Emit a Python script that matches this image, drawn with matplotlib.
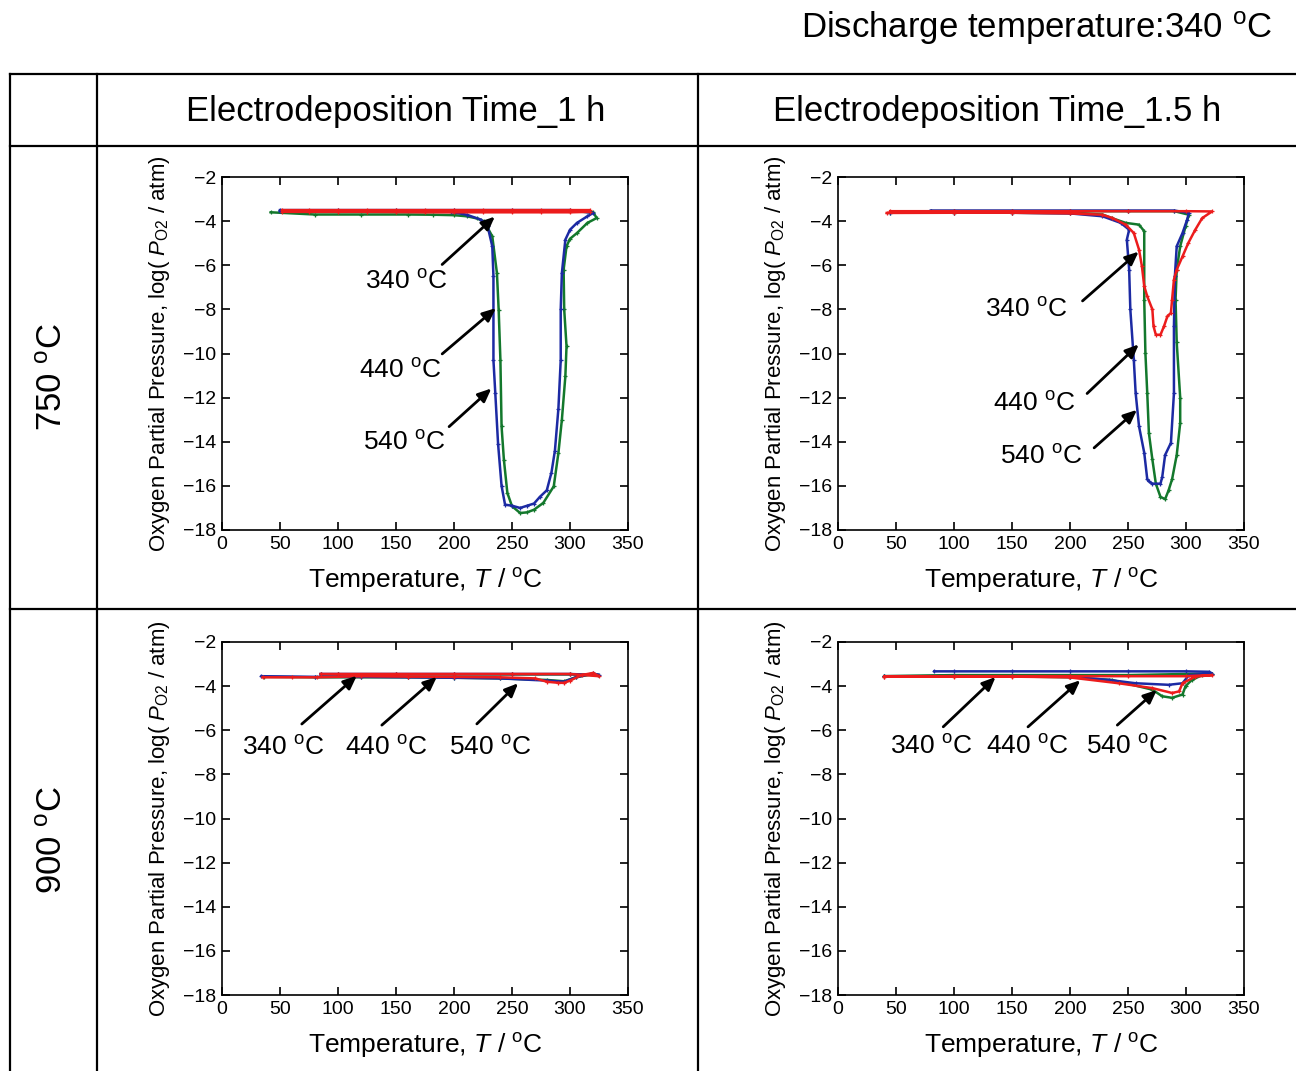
import matplotlib
matplotlib.use("Agg")
import matplotlib.pyplot as plt

plt.rcParams['font.family'] = ['Liberation Sans', 'DejaVu Sans']
plt.rcParams['mathtext.fontset'] = 'custom'
plt.rcParams['mathtext.rm'] = 'Liberation Sans'
plt.rcParams['mathtext.it'] = 'Liberation Sans:italic'

# ---- data (temperature in degC, log(PO2/atm)) ----
# 750 degC, 1 h
t_750_1h_green = [42, 80, 120, 160, 182, 200, 211, 220, 226, 233, 237, 238.5, 240, 241, 243, 246, 250, 257,
                  263, 269, 277, 286, 290, 293, 296, 297, 295, 294.5, 297, 300, 306, 315, 323, 320, 300, 250,
                  200, 150, 100, 60]
p_750_1h_green = [-3.60, -3.70, -3.70, -3.70, -3.71, -3.73, -3.78, -3.88, -4.01, -4.69, -6.35, -8.01, -10.28,
                  -13.3, -14.81, -16.32, -16.92, -17.23, -17.2, -17.08, -16.77, -16.02, -14.51, -13.0, -11.03,
                  -9.67, -8.0, -6.2, -5.14, -4.8, -4.54, -4.08, -3.86, -3.60, -3.55, -3.55, -3.55, -3.55,
                  -3.55, -3.55]
t_750_1h_blue = [50, 100, 150, 197, 211, 223, 229, 233, 234, 234, 235.6, 238, 241, 244, 250, 257, 263, 269,
                 274, 280, 284, 287, 290, 292, 292, 293, 296, 300, 306, 315, 320, 300, 250, 200, 150, 100, 50]
p_750_1h_blue = [-3.55, -3.55, -3.56, -3.58, -3.71, -3.93, -4.24, -5.14, -6.5, -10.3, -11.8, -14.1, -16.0,
                 -16.85, -16.9, -17.0, -16.9, -16.8, -16.5, -16.2, -15.4, -14.4, -12.5, -10.3, -8.0, -6.35,
                 -4.84, -4.39, -4.08, -3.78, -3.63, -3.50, -3.50, -3.50, -3.50, -3.50, -3.50]
t_750_1h_red = [52, 75, 100, 125, 150, 175, 200, 225, 250, 275, 300, 317, 317, 300, 275, 250, 225, 200, 175,
                150, 125, 100, 75, 52]
p_750_1h_red = [-3.58, -3.58, -3.58, -3.58, -3.59, -3.6, -3.6, -3.6, -3.6, -3.6, -3.6, -3.58, -3.5, -3.5,
                -3.5, -3.5, -3.5, -3.5, -3.5, -3.5, -3.5, -3.5, -3.5, -3.5]

# 750 degC, 1.5 h
t_750_15h_green = [45, 100, 150, 200, 228, 236, 248, 259.5, 264, 264, 265, 266.6, 268, 271, 274, 278, 282,
                   285, 288, 292, 295, 295, 292, 291, 292, 295, 299.6, 302.5, 290, 250, 200, 150, 100, 80]
p_750_15h_green = [-3.62, -3.62, -3.62, -3.64, -3.7, -3.86, -4.08, -4.16, -4.46, -7.56, -9.98, -11.8, -13.6,
                   -14.8, -15.9, -16.5, -16.6, -16.2, -15.7, -14.6, -13.15, -12.0, -9.5, -7.56, -6.2, -5.14,
                   -4.24, -3.71, -3.55, -3.55, -3.55, -3.55, -3.55, -3.55]
t_750_15h_blue = [45, 100, 150, 200, 228, 243.7, 251, 249, 251, 252, 255, 256.6, 259.5, 264, 266.6, 268, 271,
                  278, 279.5, 282, 287, 289.6, 289.6, 290.4, 292, 297, 301, 302.5, 290, 250, 200, 150, 100, 80]
p_750_15h_blue = [-3.62, -3.62, -3.62, -3.65, -3.78, -4.08, -4.39, -4.84, -6.2, -8.0, -10.28, -11.8, -13.3,
                  -14.5, -15.7, -15.8, -15.9, -15.9, -15.6, -14.6, -14.05, -11.8, -8.77, -6.5, -5.14, -4.54,
                  -3.93, -3.63, -3.52, -3.52, -3.52, -3.52, -3.52, -3.52]
t_750_15h_red = [42, 100, 150, 200, 228, 236.5, 248, 255, 259.5, 262, 264, 266.6, 271, 272, 274, 278, 281,
                 284, 287, 288, 289.6, 292, 297, 302, 308, 314, 322.5, 300, 250, 200, 150, 100, 45]
p_750_15h_red = [-3.63, -3.62, -3.62, -3.65, -3.71, -3.86, -4.16, -4.54, -5.29, -6.05, -6.95, -7.41, -8.0,
                 -8.77, -9.15, -9.15, -8.77, -8.31, -8.16, -7.56, -6.65, -6.2, -5.6, -4.99, -4.39, -3.86,
                 -3.56, -3.55, -3.55, -3.55, -3.55, -3.55, -3.55]

# 900 degC, 1 h
t_900_1h_green = [36, 80, 120, 160, 200, 240, 280, 295, 305, 320, 324, 300, 250, 200, 150, 100, 85]
p_900_1h_green = [-3.58, -3.6, -3.6, -3.6, -3.62, -3.65, -3.72, -3.78, -3.6, -3.45, -3.5, -3.47, -3.47,
                  -3.47, -3.47, -3.47, -3.47]
t_900_1h_blue = [34, 80, 120, 160, 200, 240, 280, 295, 305, 320, 325, 300, 250, 200, 150, 100, 85]
p_900_1h_blue = [-3.55, -3.58, -3.58, -3.6, -3.62, -3.65, -3.75, -3.8, -3.6, -3.42, -3.5, -3.45, -3.45,
                 -3.45, -3.45, -3.45, -3.45]
t_900_1h_red = [35, 60, 82, 120, 160, 200, 240, 270, 280, 290, 295, 300, 310, 320, 325, 300, 250, 200, 150,
                100, 85]
p_900_1h_red = [-3.6, -3.6, -3.6, -3.55, -3.57, -3.58, -3.6, -3.65, -3.8, -3.85, -3.85, -3.75, -3.5, -3.4,
                -3.55, -3.45, -3.45, -3.45, -3.45, -3.45, -3.45]

# 900 degC, 1.5 h
t_900_15h_green = [40, 100, 150, 200, 236, 271, 279.5, 288, 297, 299.6, 305, 314, 322.5, 300, 250, 200, 150,
                   100, 40]
p_900_15h_green = [-3.55, -3.55, -3.56, -3.6, -3.72, -4.16, -4.46, -4.53, -4.38, -4.0, -3.72, -3.5, -3.43,
                   -3.45, -3.5, -3.5, -3.5, -3.5, -3.55]
t_900_15h_blue = [40, 100, 150, 200, 233.7, 256.6, 285, 297, 302.5, 322.5, 320, 300, 250, 200, 150, 100, 83]
p_900_15h_blue = [-3.55, -3.55, -3.56, -3.58, -3.72, -3.87, -3.94, -3.87, -3.5, -3.43, -3.35, -3.33, -3.33,
                  -3.33, -3.33, -3.33, -3.33]
t_900_15h_red = [40, 100, 150, 199, 242, 271, 288, 294, 297, 308, 322.5, 300, 250, 200, 150, 100, 40]
p_900_15h_red = [-3.57, -3.57, -3.57, -3.6, -3.87, -4.09, -4.31, -4.24, -3.87, -3.57, -3.5, -3.55, -3.55,
                 -3.55, -3.55, -3.55, -3.57]

col_titles = ["Electrodeposition Time_1 h", "Electrodeposition Time_1.5 h"]
row_titles = [r"750 $^{\rm o}$C", r"900 $^{\rm o}$C"]
hold_labels = [r"340 $^{\rm o}$C", r"440 $^{\rm o}$C", r"540 $^{\rm o}$C"]
x_ticks = [0, 50, 100, 150, 200, 250, 300, 350]
y_ticks = [-2, -4, -6, -8, -10, -12, -14, -16, -18]

GREEN = '#13782c'
BLUE = '#1c2aa3'
RED = '#ec1c1c'

panels = [
    [(t_750_1h_green, p_750_1h_green), (t_750_1h_blue, p_750_1h_blue), (t_750_1h_red, p_750_1h_red)],
    [(t_750_15h_green, p_750_15h_green), (t_750_15h_blue, p_750_15h_blue), (t_750_15h_red, p_750_15h_red)],
    [(t_900_1h_green, p_900_1h_green), (t_900_1h_blue, p_900_1h_blue), (t_900_1h_red, p_900_1h_red)],
    [(t_900_15h_green, p_900_15h_green), (t_900_15h_blue, p_900_15h_blue), (t_900_15h_red, p_900_15h_red)],
]

# annotation layout per panel: (text xy, arrow tail, arrow head) in data coords
arrows = [
    [((159, -6.75), (188, -6.05), (237, -3.71)),
     ((154, -10.8), (188, -10.1), (238, -7.86)),
     ((157, -14.05), (194, -13.4), (234, -11.5))],
    [((162, -8.0), (209, -7.7), (261, -5.3)),
     ((169, -12.3), (213, -11.9), (261, -9.5)),
     ((175, -14.66), (219, -14.36), (259.5, -12.47))],
    [((53, -6.8), (67, -5.8), (118, -3.45)),
     ((142, -6.8), (136, -5.85), (187, -3.5)),
     ((231, -6.8), (218, -5.8), (257, -3.78))],
    [((80, -6.75), (89, -5.93), (137.6, -3.5)),
     ((163, -6.75), (162, -5.93), (210.7, -3.65)),
     ((249, -6.75), (239, -5.85), (276.7, -4.09))],
]

W, H = 1296, 1071
fig = plt.figure(figsize=(W / 100, H / 100), dpi=100)

# table frame drawn in pixel coordinates
bg = fig.add_axes([0, 0, 1, 1])
bg.set_xlim(0, W)
bg.set_ylim(H, 0)
bg.axis('off')
lw = 1.6
for y in [74, 146, 609]:
    bg.plot([10, W], [y, y], color='black', lw=lw)
for x in [10, 97, 698]:
    bg.plot([x, x], [74, H], color='black', lw=lw)

bg.text(1272, 28, r"Discharge temperature:340 $^{\rm o}$C", fontsize=25, ha='right', va='center')
bg.text(396, 111, col_titles[0], fontsize=25, ha='center', va='center')
bg.text(997, 111, col_titles[1], fontsize=25, ha='center', va='center')
bg.text(53, 377, row_titles[0], fontsize=25, ha='center', va='center', rotation=90)
bg.text(53, 840, row_titles[1], fontsize=25, ha='center', va='center', rotation=90)

# axes boxes in pixels: (left, top)
boxes = [(222, 177), (838, 177), (222, 642), (838, 642)]
aw, ah = 406, 353

for i, (left, top) in enumerate(boxes):
    ax = fig.add_axes([left / W, 1 - (top + ah) / H, aw / W, ah / H])
    for (t, p), c in zip(panels[i], [GREEN, BLUE, RED]):
        ax.plot(t, p, color=c, lw=1.8, marker='+', ms=3.5, mew=0.9)
    ax.set_xlim(0, 350)
    ax.set_ylim(-18, -2)
    ax.set_xticks(x_ticks)
    ax.set_yticks(y_ticks)
    ax.tick_params(direction='in', top=True, right=True, length=6, width=1.2, labelsize=14, pad=4)
    for s in ax.spines.values():
        s.set_linewidth(1.2)
    ax.set_xlabel(r"Temperature, $\mathit{T}$ / $^{\rm o}$C", fontsize=19, labelpad=10)
    ax.set_ylabel(r"Oxygen Partial Pressure, log( $\mathit{P}_{\rm O2}$ / atm)", fontsize=16, labelpad=8)
    for lab, (txt, tail, head) in zip(hold_labels, arrows[i]):
        ax.text(txt[0], txt[1], lab, fontsize=19, ha='center', va='center')
        ax.annotate('', xy=head, xytext=tail,
                    arrowprops=dict(arrowstyle='-|>,head_length=0.8,head_width=0.35', color='black', lw=2))

fig.savefig("out.png", dpi=100)
